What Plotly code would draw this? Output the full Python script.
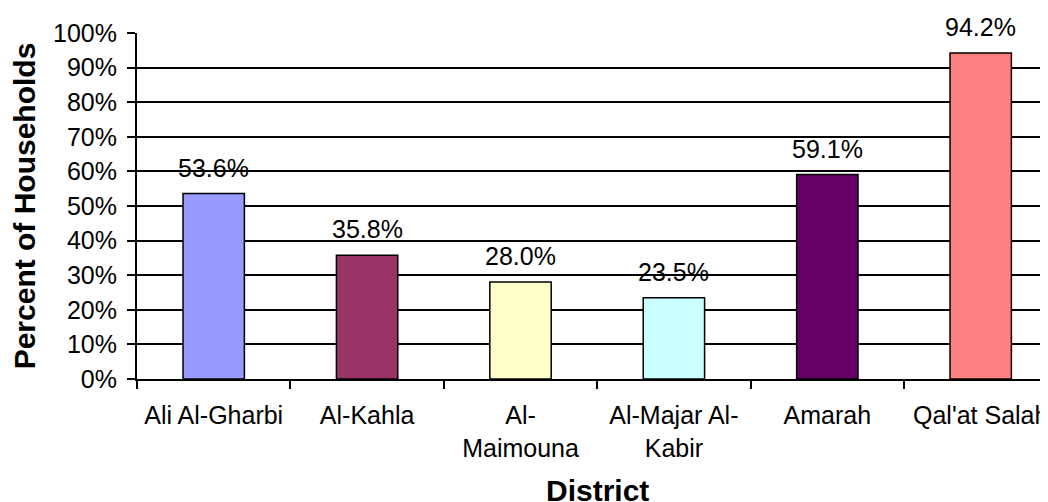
import plotly.graph_objects as go

# =============== data
districts = ["Ali Al-Gharbi", "Al-Kahla", "Al-<br>Maimouna", "Al-Majar Al-<br>Kabir", "Amarah", "Qal'at Salah"]
pct_households = [0.536, 0.358, 0.280, 0.235, 0.591, 0.942]
value_labels = ["53.6%", "35.8%", "28.0%", "23.5%", "59.1%", "94.2%"]
bar_colors = ["#9999FF", "#993366", "#FFFFCC", "#CCFFFF", "#660066", "#FF8080"]
y_ticks = [0, 0.1, 0.2, 0.3, 0.4, 0.5, 0.6, 0.7, 0.8, 0.9, 1.0]

FONT = "Arial, Liberation Sans, sans-serif"

fig = go.Figure()
fig.add_trace(go.Bar(
    x=districts, y=pct_households,
    marker=dict(color=bar_colors, line=dict(color="black", width=1.5)),
    hoverinfo="skip"))

# =============== value labels above the bars
for d, v, t in zip(districts, pct_households, value_labels):
    fig.add_annotation(x=d, y=v, text=t, showarrow=False, yanchor="bottom", yshift=10,
        font=dict(size=25, color="black", family=FONT))

# =============== x axis title (centred on the full category span)
fig.add_annotation(x=2.5, xref="x", y=0, yref="paper", yshift=-93, yanchor="top",
    text="<b>District</b>", showarrow=False, font=dict(size=30, color="black", family=FONT))

fig.update_xaxes(
    range=[-0.5, 5.393], tickangle=0, tickson="boundaries", ticks="outside", ticklen=8,
    tickwidth=2, tickcolor="black", showline=True, linecolor="black", linewidth=2,
    showgrid=False, ticklabelstandoff=13, tickfont=dict(size=25, color="black", family=FONT))
fig.update_yaxes(
    range=[0, 1], tickvals=y_ticks, tickformat=".0%", ticks="outside", ticklen=8,
    tickwidth=2, tickcolor="black", showline=True, linecolor="black", linewidth=2,
    showgrid=True, gridcolor="black", gridwidth=1.5, zeroline=False, ticklabelstandoff=5,
    tickfont=dict(size=25, color="black", family=FONT),
    title=dict(text="<b>Percent of Households</b>", standoff=15,
        font=dict(size=30, color="black", family=FONT)))

# page body has an 8px margin, so the paper is shrunk to fit the window
fig.update_layout(
    width=1040, height=494, bargap=0.6, showlegend=False,
    margin=dict(l=129, r=0, t=25, b=123),
    plot_bgcolor="white", paper_bgcolor="white", font=dict(family=FONT, color="black"))

fig.write_html("out.html")
